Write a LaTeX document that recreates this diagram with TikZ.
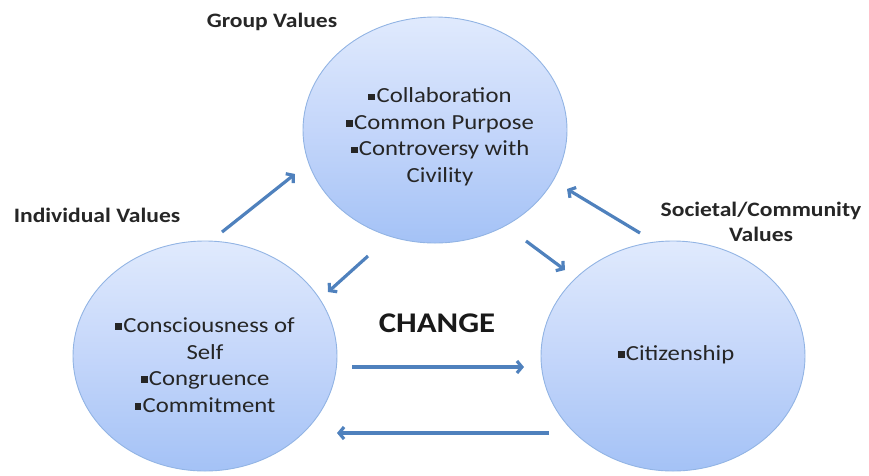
\documentclass[tikz,border=0pt]{standalone}
\usepackage{fontspec}
\setmainfont[FakeStretch=1.15]{Carlito}
\usetikzlibrary{shapes.geometric,arrows.meta}
\definecolor{circtop}{RGB}{224,234,253}
\definecolor{circmid}{RGB}{196,214,250}
\definecolor{circbot}{RGB}{164,194,246}
\definecolor{circline}{RGB}{146,180,228}
\definecolor{arrowblue}{RGB}{79,129,189}
\newcommand{\bul}{\raisebox{0.25ex}{\rule{0.32em}{0.32em}}\hspace{0.06em}}
\tikzset{
  valcircle/.style={ellipse, draw=circline, line width=0.9pt, top color=circtop, bottom color=circbot, middle color=circmid, minimum width=264pt, minimum height=230pt, inner sep=0pt},
  valtext/.style={align=center, font=\fontsize{21.5}{26.5}\selectfont, text=black!85},
  label/.style={align=center, font=\fontsize{20.5}{25}\selectfont\bfseries, text=black!85},
  flow/.style={draw=arrowblue, line width=3.2pt, -{Straight Barb[length=5pt,width=12pt]}}
}
\begin{document}
\begin{tikzpicture}[x=1pt,y=-1pt]
\useasboundingbox (0,0) rectangle (869,475);
\node[valcircle, minimum height=226pt] (T) at (435,130) {};
\node[valcircle] (L) at (205,356) {};
\node[valcircle] (R) at (673,356) {};
\node[valtext] (Ttext) at (440,137) {\bul Collaboration\\\bul Common Purpose\\\bul Controversy with\\Civility};
\node[valtext] (Ltext) at (205,365) {\bul Consciousness of\\Self\\\bul Congruence\\\bul Commitment};
\node[valtext] (Rtext) at (676,355) {\bul Citizenship};
\node[label] (gv) at (272,22) {Group Values};
\node[label] (iv) at (97,215) {Individual Values};
\node[label] (sv) at (761,222) {Societal/Community\\Values};
\node[font=\fontsize{28.5}{32}\selectfont\bfseries, text=black!90] (change) at (437,323) {CHANGE};
\coordinate (a1s) at (222,232); \coordinate (a1e) at (295,174);
\coordinate (a2s) at (368,256); \coordinate (a2e) at (328,292);
\coordinate (a3s) at (526,241); \coordinate (a3e) at (565,270);
\coordinate (a4s) at (640,233); \coordinate (a4e) at (567,189);
\coordinate (a5s) at (352,367); \coordinate (a5e) at (524,367);
\coordinate (a6s) at (549,433); \coordinate (a6e) at (337,433);
\draw[flow] (a1s) -- (a1e);
\draw[flow] (a2s) -- (a2e);
\draw[flow] (a3s) -- (a3e);
\draw[flow] (a4s) -- (a4e);
\draw[flow] (a5s) -- (a5e);
\draw[flow] (a6s) -- (a6e);
\end{tikzpicture}
\end{document}
